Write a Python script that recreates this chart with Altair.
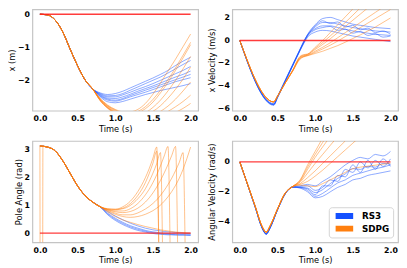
import altair as alt
import pandas as pd

BLUE = "#1450ff"
ORANGE = "#ff7f0e"

# ---------------- panel 1 : x (m) ----------------
T1 = [0.0, 0.1, 0.2, 0.3, 0.4, 0.5, 0.6, 0.7, 0.8, 0.9, 1.0,
      1.1, 1.2, 1.3, 1.4, 1.5, 1.6, 1.7, 1.8, 1.9, 2.0]
X_PRE = [0.0, -0.02, -0.17, -0.52, -1.05, -1.56, -1.99, -2.26]
X_RS3 = [
    [-2.38, -2.43, -2.40, -2.33, -2.23, -2.13, -2.03, -1.93, -1.82, -1.70, -1.55, -1.42, -1.30],
    [-2.42, -2.50, -2.50, -2.44, -2.36, -2.27, -2.19, -2.10, -2.00, -1.90, -1.80, -1.70, -1.58],
    [-2.46, -2.57, -2.60, -2.55, -2.46, -2.38, -2.30, -2.22, -2.14, -2.06, -1.98, -1.90, -1.82],
    [-2.50, -2.65, -2.68, -2.64, -2.57, -2.50, -2.43, -2.37, -2.31, -2.26, -2.21, -2.16, -2.10],
    [-2.40, -2.47, -2.46, -2.40, -2.30, -2.20, -2.10, -2.00, -1.90, -1.78, -1.65, -1.52, -1.40],
    [-2.44, -2.54, -2.55, -2.50, -2.42, -2.33, -2.25, -2.17, -2.08, -1.99, -1.90, -1.82, -1.72],
    [-2.48, -2.60, -2.63, -2.58, -2.50, -2.43, -2.36, -2.28, -2.20, -2.12, -2.04, -1.98, -1.92],
]
X_SDPG = [
    [-2.55, -2.75, -2.88, -2.95, -2.95, -2.88, -2.70, -2.42, -2.08, -1.72, -1.36, -0.98, -0.60],
    [-2.57, -2.78, -2.92, -3.00, -3.02, -2.98, -2.86, -2.66, -2.38, -2.06, -1.70, -1.32, -0.92],
    [-2.58, -2.80, -2.95, -3.04, -3.08, -3.06, -2.98, -2.82, -2.60, -2.32, -2.00, -1.65, -1.28],
    [-2.60, -2.82, -2.97, -3.06, -3.10, -3.10, -3.05, -2.94, -2.77, -2.54, -2.27, -1.96, -1.60],
    [-2.60, -2.83, -2.98, -3.08, -3.13, -3.14, -3.12, -3.05, -2.94, -2.78, -2.57, -2.32, -2.05],
    [-2.61, -2.84, -3.00, -3.10, -3.16, -3.18, -3.17, -3.13, -3.05, -2.94, -2.80, -2.64, -2.45],
    [-2.56, -2.77, -2.90, -2.98, -2.99, -2.94, -2.80, -2.58, -2.30, -1.98, -1.62, -1.24, -0.85],
    [-2.62, -2.85, -3.02, -3.12, -3.20, -3.22, -3.22, -3.20, -3.15, -3.07, -2.97, -2.85, -2.70],
]

# ---------------- panel 2 : x velocity ----------------
T2 = [0.0, 0.45, 0.5, 0.6, 0.7, 0.8, 0.85, 0.9, 1.0, 1.1, 1.2,
      1.3, 1.4, 1.5, 1.6, 1.7, 1.8, 1.9, 2.0]
XV_RS3 = [
    [0, -5.65, -5.00, -3.60, -2.20, -0.80, -0.10, 0.55, 1.40, 1.95, 2.05, 1.85, 1.65, 1.45, 1.35, 1.25, 1.15, 1.10, 1.05],
    [0, -5.70, -5.05, -3.65, -2.25, -0.85, -0.15, 0.45, 1.20, 1.60, 1.60, 1.45, 1.30, 1.15, 1.05, 0.95, 0.85, 0.80, 0.75],
    [0, -5.60, -4.95, -3.55, -2.15, -0.75, -0.05, 0.50, 1.05, 1.30, 1.30, 1.15, 1.00, 0.85, 0.75, 0.65, 0.55, 0.50, 0.45],
    [0, -5.75, -5.10, -3.70, -2.30, -0.90, -0.25, 0.30, 0.75, 0.90, 0.85, 0.70, 0.55, 0.40, 0.30, 0.20, 0.10, 0.00, -0.10],
    [0, -5.65, -5.00, -3.60, -2.20, -0.80, -0.10, 0.50, 1.30, 1.75, 1.50, 1.65, 1.20, 1.35, 0.95, 1.10, 0.70, 0.85, 0.55],
    [0, -5.70, -5.05, -3.65, -2.25, -0.85, -0.20, 0.40, 0.95, 1.15, 1.25, 0.90, 1.00, 0.65, 0.80, 0.45, 0.60, 0.30, 0.40],
]
XV_SDPG = [
    [0, -5.45, -4.95, -3.80, -2.65, -1.40, -1.25, -1.20, -0.60, 0.00, 0.70, 1.40, 2.10, 2.80, 3.50, 4.20, 4.90, 5.60, 6.30],
    [0, -5.45, -4.95, -3.80, -2.70, -1.50, -1.35, -1.25, -0.80, -0.35, 0.15, 0.70, 1.25, 1.80, 2.35, 2.90, 3.40, 3.90, 4.40],
    [0, -5.45, -4.95, -3.80, -2.70, -1.55, -1.40, -1.30, -0.95, -0.60, -0.20, 0.25, 0.70, 1.15, 1.60, 2.05, 2.50, 2.95, 3.40],
    [0, -5.45, -4.95, -3.80, -2.72, -1.60, -1.42, -1.33, -1.05, -0.75, -0.42, -0.05, 0.35, 0.75, 1.15, 1.55, 1.95, 2.35, 2.75],
    [0, -5.45, -4.95, -3.80, -2.75, -1.65, -1.45, -1.35, -1.15, -0.95, -0.70, -0.45, -0.15, 0.18, 0.50, 0.85, 1.20, 1.60, 2.00],
    [0, -5.45, -4.95, -3.80, -2.68, -1.45, -1.30, -1.22, -0.70, -0.18, 0.40, 1.00, 1.60, 2.25, 2.90, 3.50, 4.10, 4.70, 5.30],
]

# ---------------- panel 3 : pole angle ----------------
T3 = [0.0, 0.1, 0.2, 0.3, 0.4, 0.5, 0.6, 0.7, 0.8, 0.9, 1.0, 1.1, 1.2, 1.3, 1.4,
      1.45, 1.5, 1.55, 1.6, 1.65, 1.7, 1.75, 1.8, 1.85, 1.9, 1.95, 2.0]
A_PRE = [3.14, 3.10, 2.97, 2.62, 2.16, 1.70, 1.35, 1.12, 0.95]
A_RS3 = [
    [0.78, 0.62, 0.48, 0.36, 0.26, 0.18, 0.15, 0.12, 0.10, 0.08, 0.06, 0.05, 0.04, 0.03, 0.02, 0.01, 0.00, 0.00],
    [0.72, 0.54, 0.39, 0.27, 0.18, 0.10, 0.07, 0.05, 0.03, 0.01, 0.00, -0.01, -0.02, -0.02, -0.03, -0.03, -0.03, -0.04],
    [0.66, 0.46, 0.31, 0.19, 0.10, 0.04, 0.01, -0.01, -0.03, -0.04, -0.05, -0.06, -0.06, -0.07, -0.07, -0.07, -0.08, -0.08],
    [0.69, 0.50, 0.35, 0.23, 0.14, 0.07, 0.04, 0.02, 0.00, -0.02, -0.03, -0.04, -0.05, -0.05, -0.06, -0.06, -0.06, -0.07],
]
A_SDPG = [
    [0.86, 0.84, 0.90, 1.06, 1.36, 1.82, 2.14, 2.52, 2.95, -3.0, -3.0, -3.0, -3.0, -3.0, -3.0, -3.0, -3.0, -3.0],
    [0.87, 0.86, 0.95, 1.15, 1.50, 2.00, 2.32, 2.70, 3.10, -3.0, -3.0, -3.0, -3.0, -3.0, -3.0, -3.0, -3.0, -3.0],
    [0.88, 0.86, 0.88, 1.00, 1.24, 1.60, 1.86, 2.16, 2.50, 2.90, -3.0, -3.0, -3.0, -3.0, -3.0, -3.0, -3.0, -3.0],
    [0.85, 0.80, 0.80, 0.88, 1.07, 1.38, 1.58, 1.82, 2.10, 2.42, 2.78, 3.12, -3.0, -3.0, -3.0, -3.0, -3.0, -3.0],
    [0.84, 0.77, 0.74, 0.78, 0.90, 1.12, 1.27, 1.45, 1.66, 1.90, 2.17, 2.47, 2.80, 3.12, -3.0, -3.0, -3.0, -3.0],
    [0.82, 0.72, 0.66, 0.66, 0.73, 0.87, 0.96, 1.07, 1.20, 1.36, 1.54, 1.75, 1.98, 2.25, 2.55, 2.90, -3.0, -3.0],
    [0.80, 0.68, 0.60, 0.57, 0.60, 0.68, 0.74, 0.81, 0.90, 1.01, 1.15, 1.31, 1.50, 1.72, 1.98, 2.30, 2.68, 3.10],
    [0.76, 0.60, 0.48, 0.39, 0.31, 0.24, 0.21, 0.18, 0.15, 0.12, 0.10, 0.08, 0.06, 0.04, 0.03, 0.02, 0.01, 0.00],
]
SPIKE_T = [0.0, 0.005, 0.035, 0.04, 0.1, 0.2, 0.3, 0.4, 0.5, 0.6, 0.7, 0.8]
SPIKE_V = [3.14, -3.10, -3.10, 3.12, 3.10, 2.97, 2.62, 2.16, 1.70, 1.35, 1.12, 0.95]

# ---------------- panel 4 : angular velocity ----------------
T4 = [0.0, 0.1, 0.2, 0.3, 0.35, 0.4, 0.5, 0.6, 0.7, 0.8, 0.9, 1.0,
      1.1, 1.2, 1.3, 1.4, 1.5, 1.6, 1.7, 1.8, 1.9, 2.0]
W_PRE_RS3 = [0.0, -1.47, -2.95, -4.45, -4.82, -4.42, -3.20, -2.15, -1.68]
W_PRE_SDPG = [0.0, -1.45, -2.90, -4.35, -4.70, -4.30, -3.15, -2.10, -1.65]
W_RS3 = [
    [-1.60, -1.50, -1.60, -1.30, -1.00, -0.60, -0.20, 0.10, 0.30, 0.20, 0.50, 0.40, 0.70],
    [-1.70, -1.75, -2.05, -1.85, -1.45, -1.10, -0.80, -0.45, -0.50, -0.30, -0.35, -0.10, -0.15],
    [-1.75, -2.00, -2.40, -2.30, -2.00, -1.70, -1.50, -1.20, -1.10, -0.90, -0.80, -0.70, -0.60],
    [-1.70, -1.80, -2.20, -1.60, -1.60, -0.90, -1.00, -0.20, -0.70, 0.10, -0.50, 0.20, -0.30],
    [-1.65, -1.60, -1.90, -1.70, -1.20, -1.30, -0.50, -0.70, 0.00, -0.40, 0.10, -0.30, 0.20],
    [-1.72, -1.90, -2.30, -2.10, -1.75, -1.40, -1.20, -0.90, -0.75, -0.60, -0.45, -0.35, -0.20],
]
W_SDPG = [
    [-1.20, -0.20, 0.70, 1.60, 2.50, 3.40, 4.30, 5.20, 6.10, 7.00, 7.90, 8.80, 9.70],
    [-1.25, -0.35, 0.50, 1.30, 2.10, 2.90, 3.70, 4.50, 5.30, 6.10, 6.90, 7.70, 8.50],
    [-1.30, -0.50, 0.30, 1.00, 1.70, 2.40, 3.10, 3.80, 4.50, 5.20, 5.90, 6.60, 7.30],
    [-1.35, -0.75, -0.10, 0.50, 1.10, 1.70, 2.30, 2.90, 3.50, 4.10, 4.70, 5.30, 5.90],
    [-1.45, -1.05, -0.60, -0.10, 0.40, 0.90, 1.40, 1.90, 2.40, 2.90, 3.40, 3.90, 4.40],
    [-1.50, -1.30, -0.95, -0.55, -0.10, 0.35, 0.80, 1.25, 1.70, 2.15, 2.60, 3.05, 3.50],
    [-1.55, -1.60, -1.65, -1.45, -1.20, -0.95, -0.70, -0.45, -0.35, -0.28, -0.22, -0.15, -0.08],
]

TARGET_T = [0.0, 2.0]
TARGET_V = [0.0, 0.0]

rows = []


def add(panel, group, tid, times, vals):
    for t, v in zip(times, vals):
        rows.append({"panel": panel, "group": group, "traj": f"{group}{tid:03d}", "t": t, "v": v})


for i, tail in enumerate(X_RS3):
    add("x", "RS3", i, T1, X_PRE + tail)
for i, tail in enumerate(X_SDPG):
    add("x", "SDPG", i, T1, X_PRE + tail)
for i, vals in enumerate(XV_RS3):
    add("xv", "RS3", i, T2, vals)
for i, vals in enumerate(XV_SDPG):
    add("xv", "SDPG", i, T2, vals)
for i, tail in enumerate(A_RS3):
    add("a", "RS3", i, T3, A_PRE + tail)
for i, tail in enumerate(A_SDPG):
    add("a", "SDPG", i, T3, A_PRE + tail)
add("a", "SDPG", 99, SPIKE_T, SPIKE_V)
for i, tail in enumerate(W_RS3):
    add("w", "RS3", i, T4, W_PRE_RS3 + tail)
for i, tail in enumerate(W_SDPG):
    add("w", "SDPG", i, T4, W_PRE_SDPG + tail)

df = pd.DataFrame(rows)
target = pd.DataFrame({"t": TARGET_T, "v": TARGET_V})

FONT = "DejaVu Sans"
W, H = 170, 104


def panel(name, ytitle, ydomain, yvalues, show_legend=False):
    d = df[df.panel == name]
    x = alt.X("t:Q", scale=alt.Scale(domain=[-0.1, 2.1], nice=False, zero=False),
              axis=alt.Axis(values=[0, 0.5, 1, 1.5, 2], format=".1f", title="Time (s)",
                            labelOverlap=False))
    y = alt.Y("v:Q", scale=alt.Scale(domain=ydomain, nice=False, zero=False),
              axis=alt.Axis(values=yvalues, format="d", title=ytitle, labelOverlap=False))
    if show_legend:
        leg = alt.Legend(orient="bottom-right", title=None, symbolType="M-3,0H3",
                         symbolSize=36, symbolStrokeWidth=6, symbolOpacity=1,
                         symbolOffset=6, labelOffset=12, clipHeight=10,
                         labelFont=FONT, labelFontWeight="bold", labelFontSize=9,
                         labelColor="black", fillColor="white", strokeColor="#d4d4d4",
                         padding=4, cornerRadius=3, rowPadding=3, offset=5)
    else:
        leg = None
    color = alt.Color("group:N", scale=alt.Scale(domain=["RS3", "SDPG"], range=[BLUE, ORANGE]),
                      legend=leg)
    lines = alt.Chart(d).mark_line(
        clip=True, strokeWidth=0.9, opacity=0.55, interpolate="monotone"
    ).encode(x=x, y=y, color=color, detail="traj:N")
    red = alt.Chart(target).mark_line(color="#ff1a1a", strokeWidth=1.4, opacity=0.85, clip=True).encode(
        x=x, y=y)
    return alt.layer(lines, red).properties(width=W, height=H)


p1 = panel("x", "x (m)", [-2.92, 0.15], [0, -1, -2])
p2 = panel("xv", "x Velocity (m/s)", [-6.23, 2.77], [2, 0, -2, -4, -6])
p3 = panel("a", "Pole Angle (rad)", [-0.33, 3.32], [0, 1, 2, 3])
p4 = panel("w", "Angular Velocity (rad/s)", [-5.37, 1.4], [0, -2, -4], show_legend=True)

chart = alt.concat(p1, p2, p3, p4, columns=2, spacing={"row": 31, "column": 35}, bounds="flush") \
    .resolve_scale(color="independent") \
    .properties(padding={"left": -1, "top": -3, "right": 0, "bottom": 0}) \
    .configure_view(stroke="#c4c4c4", strokeWidth=1.2) \
    .configure_axis(labelFont=FONT, labelFontWeight="bold", labelFontSize=8, labelColor="black",
                    titleFont=FONT, titleFontWeight="normal", titleFontSize=8.5, titleColor="black",
                    ticks=False, domain=False, grid=False) \
    .configure_axisX(labelPadding=4, titlePadding=2) \
    .configure_axisY(labelPadding=3, titlePadding=1)

chart.save("out.html", embed_options={"renderer": "svg", "actions": False})
